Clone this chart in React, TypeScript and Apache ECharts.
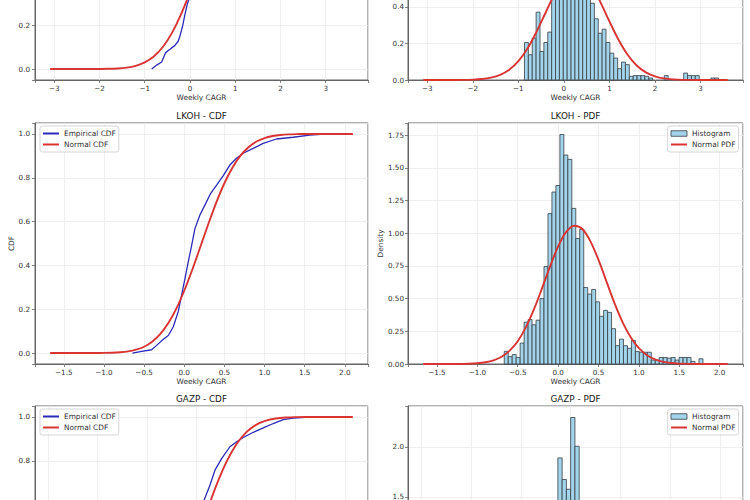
import React, { useEffect, useRef } from "react";
import * as echarts from "echarts";

// ================= DATA =================
// Row 1 (its ticker title is cropped off the top of the picture)
const topEmpiricalX = [-0.846, -0.735, -0.625, -0.537, -0.441, -0.331, -0.258, -0.221, -0.162, -0.11, -0.059, -0.022, 0.072, 0.158, 0.243, 0.328, 0.414, 0.499, 0.584, 0.67, 0.755, 0.84, 0.925, 1.011, 1.096, 1.181, 1.267, 1.352, 1.437, 1.7, 1.95, 2.29, 2.7, 2.97, 3.3, 3.4];
const topEmpiricalCdf = [0, 0.018, 0.032, 0.075, 0.09, 0.108, 0.128, 0.151, 0.197, 0.25, 0.296, 0.319, 0.435, 0.505, 0.59, 0.655, 0.713, 0.764, 0.806, 0.842, 0.87, 0.892, 0.915, 0.932, 0.945, 0.955, 0.96, 0.968, 0.975, 0.982, 0.986, 0.989, 0.99, 0.998, 0.998, 1.0];
const topNormalX = [-3.09, -2.8, -2.5, -2.2, -2.0, -1.8, -1.6, -1.4, -1.2, -1.0, -0.8, -0.6, -0.4, -0.2, 0.0, 0.2, 0.4, 0.6, 0.8, 1.0, 1.2, 1.4, 1.6, 1.8, 2.0, 2.2, 2.5, 2.8, 3.1, 3.6];
const topNormalCdf = [0, 0, 0.00002, 0.0001, 0.0004, 0.0011, 0.0028, 0.0067, 0.0148, 0.0303, 0.0574, 0.1006, 0.1638, 0.2483, 0.3516, 0.4673, 0.5859, 0.6971, 0.7925, 0.8674, 0.9212, 0.9565, 0.9778, 0.9895, 0.9954, 0.9982, 0.9996, 0.9999, 1.0, 1.0];
const topNormalPdf = [0, 0.00002, 0.0001, 0.0007, 0.002, 0.0053, 0.0128, 0.028, 0.0559, 0.1028, 0.1719, 0.2638, 0.3692, 0.4732, 0.556, 0.5943, 0.5825, 0.5218, 0.4275, 0.3205, 0.22, 0.138, 0.0791, 0.0414, 0.0199, 0.0087, 0.0021, 0.0004, 0.0001, 0];
const topHistStart = -0.866;
const topHistWidth = 0.0853;
const topHistDensity = [0.205, 0.138, 0.229, 0.371, 0.156, 0.205, 0.262, 0.55, 0.8, 0.95, 1.255, 0.85, 1.0, 0.75, 0.7, 0.6, 0.5, 0.42, 0.335, 0.256, 0.278, 0.205, 0.147, 0.12, 0.062, 0.098, 0.084, 0.02, 0.024, 0.024, 0.024, 0.02, 0.011, 0, 0, 0, 0.024, 0, 0, 0, 0, 0.038, 0.024, 0.024, 0.024, 0, 0, 0, 0.011, 0.011];

// LKOH
const lkohEmpiricalX = [-0.645, -0.53, -0.406, -0.344, -0.26, -0.198, -0.136, -0.074, -0.033, 0.009, 0.05, 0.092, 0.133, 0.195, 0.257, 0.328, 0.403, 0.486, 0.568, 0.651, 0.734, 0.858, 0.983, 1.149, 1.356, 1.563, 1.79];
const lkohEmpiricalCdf = [0, 0.008, 0.015, 0.035, 0.063, 0.08, 0.12, 0.19, 0.264, 0.34, 0.416, 0.49, 0.568, 0.63, 0.675, 0.728, 0.766, 0.81, 0.858, 0.889, 0.912, 0.934, 0.957, 0.977, 0.985, 0.995, 1.0];
const lkohNormalX = [-1.67, -1.5, -1.3, -1.1, -1.0, -0.9, -0.8, -0.7, -0.6, -0.5, -0.4, -0.3, -0.2, -0.1, 0.0, 0.1, 0.2, 0.3, 0.4, 0.5, 0.6, 0.7, 0.8, 0.9, 1.0, 1.1, 1.2, 1.3, 1.4, 1.5, 1.7, 2.1];
const lkohNormalCdf = [0, 0, 0.00003, 0.0002, 0.0006, 0.0015, 0.0036, 0.0075, 0.0154, 0.0287, 0.0516, 0.086, 0.1357, 0.2016, 0.2843, 0.38, 0.484, 0.589, 0.688, 0.775, 0.846, 0.901, 0.9397, 0.9654, 0.9813, 0.9905, 0.9955, 0.998, 0.9992, 0.9997, 1.0, 1.0];
const lkohNormalPdf = [0, 0.00004, 0.0003, 0.0024, 0.0059, 0.0133, 0.0284, 0.0552, 0.1027, 0.174, 0.28, 0.417, 0.578, 0.746, 0.899, 1.01, 1.057, 1.032, 0.938, 0.796, 0.628, 0.462, 0.317, 0.203, 0.121, 0.0673, 0.0348, 0.0167, 0.0076, 0.0032, 0.0005, 0];
const lkohHistStart = -0.667;
const lkohHistWidth = 0.0492;
const lkohHistDensity = [0.097, 0.056, 0.072, 0.05, 0.16, 0.32, 0.34, 0.3, 0.335, 0.5, 0.745, 1.15, 1.315, 1.365, 1.755, 1.598, 1.565, 1.19, 0.96, 1.03, 0.585, 0.535, 0.57, 0.475, 0.365, 0.41, 0.395, 0.27, 0.14, 0.19, 0.14, 0.12, 0.18, 0.095, 0.09, 0.09, 0.09, 0.03, 0.03, 0.05, 0.05, 0.045, 0.05, 0.03, 0.05, 0.05, 0.05, 0.02, 0, 0.04];

// GAZP
const gazpEmpiricalX = [-0.77, -0.642, -0.556, -0.428, -0.342, -0.256, -0.214, -0.171, -0.128, -0.085, -0.042, 0.0, 0.043, 0.074, 0.134, 0.185, 0.252, 0.336, 0.404, 0.471, 0.572, 0.673, 0.774, 0.875, 0.976, 1.1, 1.37];
const gazpEmpiricalCdf = [0, 0.005, 0.01, 0.026, 0.048, 0.084, 0.114, 0.161, 0.221, 0.302, 0.373, 0.441, 0.54, 0.619, 0.688, 0.757, 0.81, 0.864, 0.887, 0.906, 0.93, 0.95, 0.97, 0.988, 0.995, 0.998, 1.0];
const gazpNormalX = [-1.48, -1.2, -1.0, -0.8, -0.7, -0.6, -0.5, -0.4, -0.3, -0.2, -0.1, 0.0, 0.1, 0.2, 0.3, 0.4, 0.5, 0.6, 0.7, 0.8, 0.9, 1.0, 1.2, 1.578];
const gazpNormalCdf = [0, 0, 0.0003, 0.0028, 0.0072, 0.017, 0.0364, 0.0712, 0.127, 0.208, 0.313, 0.436, 0.566, 0.689, 0.794, 0.874, 0.9297, 0.9641, 0.9833, 0.9929, 0.9973, 0.9991, 0.9999, 1.0];
const gazpNormalPdf = [0, 0.0003, 0.0036, 0.0278, 0.065, 0.1376, 0.261, 0.445, 0.68, 0.936, 1.158, 1.287, 1.286, 1.154, 0.931, 0.676, 0.44, 0.2575, 0.1356, 0.0644, 0.0274, 0.0105, 0.0011, 0];
const gazpHistStart = -0.77;
const gazpHistWidth = 0.0428;
const gazpHistDensity = [0.05, 0.02, 0.05, 0.07, 0.05, 0.1, 0.12, 0.15, 0.2, 0.3, 0.35, 0.5, 0.7, 1.1, 1.4, 1.89, 1.674, 1.577, 2.294, 2.007, 1.15, 1.25, 1.3, 0.85, 0.7, 0.6, 0.5, 0.35, 0.3, 0.25, 0.2, 0.18, 0.2, 0.22, 0.2, 0.18, 0.15, 0.12, 0.1, 0.08, 0.05, 0.04, 0.03, 0.02, 0.02, 0.01, 0, 0.02, 0, 0.02];

// ================= STYLE / LAYOUT =================
const FONT = "DejaVu Sans";
const TEXT = "#333333";
const SPINE = "#666666";
const GRID_LINE = "#ebebeb";
const BLUE = "#2b2bb8";
const RED = "#d83434";
const HIST_FILL = "#a3d4ea";
const HIST_EDGE = "#333d44";
const LINE_ICON = "path://M0 0H16V2H0Z";
const PATCH_ICON = "path://M0 0H16V5.5H0Z";

const PAGE_H = 500;
const COL_LEFT = [35, 408];
const COL_WIDTH = [333, 335];
const ROW_TOP = [-161, 123, 406];
const ROW_HEIGHT = 241;

const rows = [
  {
    title: "", xMin: -3.4245, xMax: 3.9345, xStep: 1, xDigits: 0,
    pdfMax: 1.318, pdfStep: 0.2, pdfDigits: 1, xName: true, yName: false, legend: false,
    empX: topEmpiricalX, empY: topEmpiricalCdf, normX: topNormalX, normCdf: topNormalCdf, normPdf: topNormalPdf,
    histStart: topHistStart, histWidth: topHistWidth, hist: topHistDensity,
  },
  {
    title: "LKOH", xMin: -1.8585, xMax: 2.2885, xStep: 0.5, xDigits: 1,
    pdfMax: 1.843, pdfStep: 0.25, pdfDigits: 2, xName: true, yName: true, legend: true,
    empX: lkohEmpiricalX, empY: lkohEmpiricalCdf, normX: lkohNormalX, normCdf: lkohNormalCdf, normPdf: lkohNormalPdf,
    histStart: lkohHistStart, histWidth: lkohHistWidth, hist: lkohHistDensity,
  },
  {
    title: "GAZP", xMin: -1.633, xMax: 1.731, xStep: 0.5, xDigits: 1,
    pdfMax: 2.409, pdfStep: 0.5, pdfDigits: 1, xName: false, yName: false, legend: true,
    empX: gazpEmpiricalX, empY: gazpEmpiricalCdf, normX: gazpNormalX, normCdf: gazpNormalCdf, normPdf: gazpNormalPdf,
    histStart: gazpHistStart, histWidth: gazpHistWidth, hist: gazpHistDensity,
  },
];

// Formats a tick label; labels between nice ticks, or lying outside the
// 750x500 window (the reference is a crop of a taller figure), stay empty.
const yFormatter = (step: number, digits: number, min: number, max: number, top: number, height: number) => (v: number) => {
  const r = v / step;
  if (Math.abs(r - Math.round(r)) > 1e-6) return "";
  const py = top + (height * (max - v)) / (max - min);
  if (py < 4 || py > PAGE_H - 2) return "";
  return v.toFixed(digits).replace("-", "\u2212");
};

const xFormatter = (step: number, digits: number) => (v: number) => {
  const r = v / step;
  if (Math.abs(r - Math.round(r)) > 1e-6) return "";
  return v.toFixed(digits).replace("-", "\u2212");
};

const pairs = (xs: number[], ys: number[]) => xs.map((x, i) => [x, ys[i]]);

const histData = (start: number, width: number, dens: number[]) =>
  dens
    .map((d, i) => [start + i * width, start + (i + 1) * width, d])
    .filter((d) => d[2] > 0);

const renderHist = (_params: any, api: any) => {
  const x0 = api.value(0);
  const x1 = api.value(1);
  const h = api.value(2);
  const tl = api.coord([x0, h]);
  const br = api.coord([x1, 0]);
  return {
    type: "rect",
    shape: { x: tl[0], y: tl[1], width: br[0] - tl[0], height: br[1] - tl[1] },
    style: { fill: HIST_FILL, stroke: HIST_EDGE, lineWidth: 0.8 },
  };
};

function buildOption() {
  const grid: any[] = [];
  const xAxis: any[] = [];
  const yAxis: any[] = [];
  const series: any[] = [];
  const title: any[] = [];
  const legend: any[] = [];

  const labelStyle = { fontFamily: FONT, fontSize: 7.2, color: TEXT };
  const nameStyle = { fontFamily: FONT, fontSize: 7.4, color: TEXT };

  rows.forEach((r, ri) => {
    const xLabelsVisible = ROW_TOP[ri] + ROW_HEIGHT + 12 < PAGE_H;
    for (let c = 0; c < 2; c++) {
      const k = ri * 2 + c;
      const isCdf = c === 0;
      grid.push({
        left: COL_LEFT[c], top: ROW_TOP[ri], width: COL_WIDTH[c], height: ROW_HEIGHT,
        show: true, borderColor: SPINE, borderWidth: 1, backgroundColor: "rgba(0,0,0,0)",
        containLabel: false, outerBoundsMode: "none",
      });
      xAxis.push({
        type: "value", gridIndex: k, min: r.xMin, max: r.xMax,
        minInterval: r.xStep, maxInterval: r.xStep,
        name: r.xName ? "Weekly CAGR" : "", nameLocation: "middle", nameGap: 14, nameTextStyle: nameStyle,
        axisLine: { show: true, onZero: false, lineStyle: { color: SPINE, width: 1 } },
        axisTick: { show: true, length: 3, lineStyle: { color: SPINE, width: 0.8 } },
        axisLabel: { ...labelStyle, show: xLabelsVisible, margin: 5, formatter: xFormatter(r.xStep, r.xDigits) },
        splitLine: { show: true, lineStyle: { color: GRID_LINE, width: 0.8 } },
      });
      const yStep = isCdf ? 0.2 : r.pdfStep;
      const yMin = isCdf ? -0.05 : 0;
      const yMax = isCdf ? 1.05 : r.pdfMax;
      yAxis.push({
        type: "value", gridIndex: k, min: yMin, max: yMax,
        minInterval: yStep, maxInterval: yStep,
        name: r.yName ? (isCdf ? "CDF" : "Density") : "", nameLocation: "middle",
        nameGap: isCdf ? 20 : 24, nameTextStyle: nameStyle,
        axisLine: { show: true, onZero: false, lineStyle: { color: SPINE, width: 1 } },
        axisTick: { show: true, length: 3, lineStyle: { color: SPINE, width: 0.8 } },
        axisLabel: {
          ...labelStyle, margin: isCdf ? 5 : 4,
          formatter: yFormatter(yStep, isCdf ? 1 : r.pdfDigits, yMin, yMax, ROW_TOP[ri], ROW_HEIGHT),
        },
        splitLine: { show: true, lineStyle: { color: GRID_LINE, width: 0.8 } },
      });
    }

    const kc = ri * 2;
    const kp = ri * 2 + 1;
    series.push({
      type: "line", name: "Empirical CDF", xAxisIndex: kc, yAxisIndex: kc,
      data: pairs(r.empX, r.empY), symbol: "none", showSymbol: false,
      lineStyle: { color: BLUE, width: 1.3 }, itemStyle: { color: BLUE }, silent: true, z: 3,
    });
    series.push({
      type: "line", name: "Normal CDF", xAxisIndex: kc, yAxisIndex: kc,
      data: pairs(r.normX, r.normCdf), smooth: 0.3, symbol: "none", showSymbol: false,
      lineStyle: { color: RED, width: 1.9 }, itemStyle: { color: RED }, silent: true, z: 4,
    });
    series.push({
      type: "custom", name: "Histogram", xAxisIndex: kp, yAxisIndex: kp,
      data: histData(r.histStart, r.histWidth, r.hist), encode: { x: [0, 1], y: 2 },
      renderItem: renderHist,
      itemStyle: { color: HIST_FILL, borderColor: HIST_EDGE, borderWidth: 0.8 }, silent: true, z: 2,
    });
    series.push({
      type: "line", name: "Normal PDF", xAxisIndex: kp, yAxisIndex: kp,
      data: pairs(r.normX, r.normPdf), smooth: 0.3, symbol: "none", showSymbol: false,
      lineStyle: { color: RED, width: 1.9 }, itemStyle: { color: RED }, silent: true, z: 4,
    });

    if (r.title) {
      const ttl = { fontFamily: FONT, fontSize: 8.8, fontWeight: "normal", color: "#1a1a1a" };
      title.push({
        text: `${r.title} - CDF`, left: COL_LEFT[0] + COL_WIDTH[0] / 2, top: ROW_TOP[ri] - 7,
        textAlign: "center", textVerticalAlign: "middle", padding: 0, textStyle: ttl,
      });
      title.push({
        text: `${r.title} - PDF`, left: COL_LEFT[1] + COL_WIDTH[1] / 2, top: ROW_TOP[ri] - 7,
        textAlign: "center", textVerticalAlign: "middle", padding: 0, textStyle: ttl,
      });
    }

    if (r.legend) {
      const common = {
        orient: "vertical", padding: [3, 3, 3, 3], itemGap: 2, itemWidth: 16, itemHeight: 7,
        backgroundColor: "rgba(255,255,255,0.85)", borderColor: "#cccccc", borderWidth: 0.8, borderRadius: 2.5,
        selectedMode: false,
        textStyle: { fontFamily: FONT, fontSize: 7.4, color: TEXT, lineHeight: 9 },
      };
      legend.push({
        ...common, left: COL_LEFT[0] + 5, top: ROW_TOP[ri] + 3,
        data: [{ name: "Empirical CDF", icon: LINE_ICON }, { name: "Normal CDF", icon: LINE_ICON }],
      });
      legend.push({
        ...common, right: 750 - (COL_LEFT[1] + COL_WIDTH[1]) + 4.5, top: ROW_TOP[ri] + 3,
        data: [
          { name: "Histogram", icon: PATCH_ICON, itemStyle: { color: HIST_FILL, borderColor: HIST_EDGE, borderWidth: 0.8 } },
          { name: "Normal PDF", icon: LINE_ICON },
        ],
      });
    }
  });

  return {
    animation: false,
    backgroundColor: "#ffffff",
    title,
    legend,
    grid,
    xAxis,
    yAxis,
    series,
  };
}

export default function App() {
  const ref = useRef<HTMLDivElement>(null);
  useEffect(() => {
    if (!ref.current) return;
    const chart = echarts.init(ref.current, null, { renderer: "svg" });
    chart.setOption(buildOption() as any);
    return () => chart.dispose();
  }, []);
  return (
    <div
      ref={ref}
      style={{ position: "absolute", left: 0, top: 0, width: 750, height: 500, background: "#fff" }}
    />
  );
}
